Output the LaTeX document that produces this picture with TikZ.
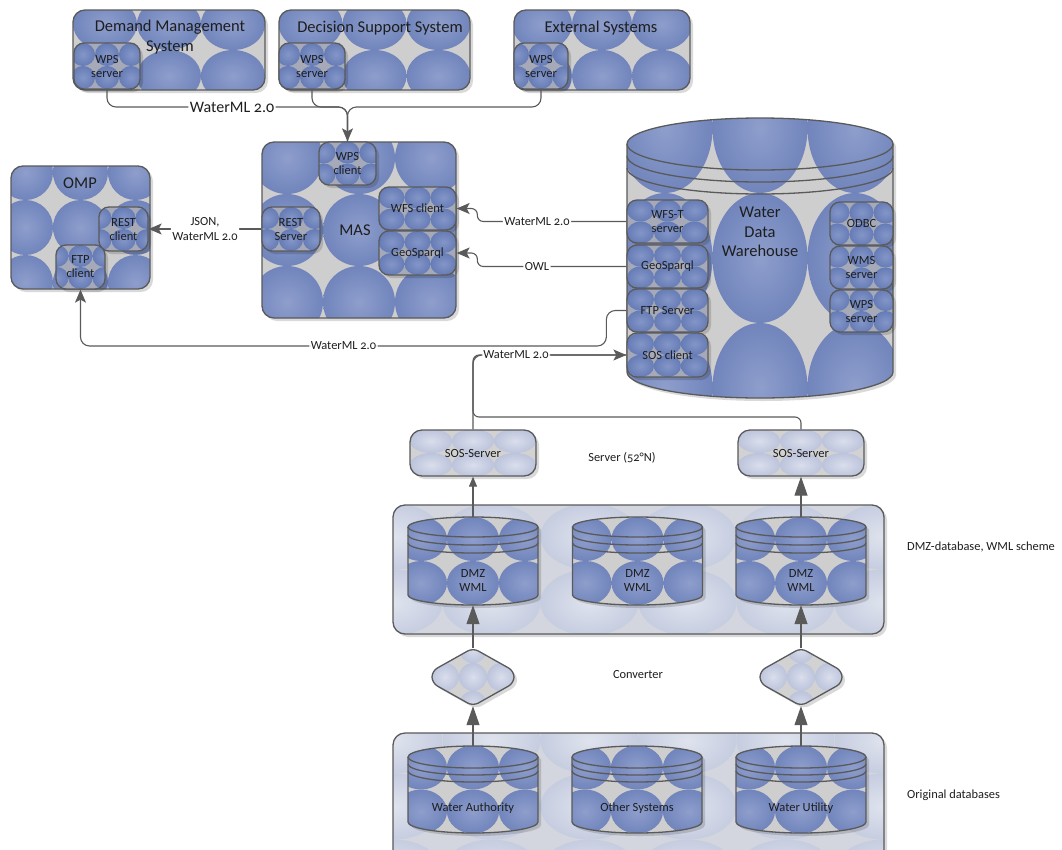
\documentclass[tikz,border=0pt]{standalone}
\usepackage{fontspec}
\setmainfont{Carlito}[Numbers=OldStyle]
\usetikzlibrary{arrows.meta}

\definecolor{bordc}{HTML}{5A5A5A}
\definecolor{txtc}{HTML}{1E1E1E}
\definecolor{dkgap}{HTML}{CECECE}
\definecolor{dkin}{HTML}{8E9ECC}
\definecolor{dkout}{HTML}{7185BC}
\definecolor{smgap}{HTML}{A6AAB8}
\definecolor{smin}{HTML}{8496C8}
\definecolor{smout}{HTML}{667CB6}
\definecolor{ltgap}{HTML}{D2D2D2}
\definecolor{ltin}{HTML}{DADEEC}
\definecolor{ltout}{HTML}{BCC4DC}
\definecolor{xlgap}{HTML}{D3D6DE}
\definecolor{xlin}{HTML}{DFE3EE}
\definecolor{xlout}{HTML}{C6CDE0}

\newcommand\fsT{\fontsize{16.5}{19.5}\selectfont}
\newcommand\fsS{\fontsize{12.5}{14}\selectfont}
\newcommand\fsL{\fontsize{12.4}{15}\selectfont}
\newcommand\bxr{10}

\tikzset{
  dk gap/.style={fill=dkgap}, dk ball/.style={inner color=dkin, outer color=dkout},
  sm gap/.style={fill=smgap}, sm ball/.style={inner color=smin, outer color=smout},
  lt gap/.style={fill=ltgap}, lt ball/.style={inner color=ltin, outer color=ltout},
  xl gap/.style={fill=xlgap}, xl ball/.style={inner color=xlin, outer color=xlout},
  shadowc/.style={fill=black, fill opacity=0.15},
  outline/.style={draw=bordc, line width=1.3pt, inner sep=0pt, align=center, text=txtc, font=\fsS},
  rim/.style={draw=bordc, line width=1.3pt},
  conn/.style={draw=bordc, line width=1.1pt, rounded corners=9pt},
  tipM/.style={-{Stealth[length=13pt,width=11pt,inset=3pt]}},
  tipB/.style={-{Triangle[length=19pt,width=13pt]}},
  tipS/.style={-{Triangle[length=10pt,width=8pt]}},
  lbl/.style={fill=white, inner sep=1.5pt, text=txtc, font=\fsL, align=center},
  title/.style={text=txtc, font=\fsT, align=center, inner sep=0pt},
  note/.style={text=txtc, font=\fsL, inner sep=0pt, align=center},
  % lower (front) half of an ellipse, left to right: centre x, centre y, rx, ry
  frontarc/.style n args={4}{insert path={.. controls ({(#1)-(#3)},{(#2)+0.5523*(#4)}) and ({(#1)-0.5523*(#3)},{(#2)+(#4)}) .. ({#1},{(#2)+(#4)}) .. controls ({(#1)+0.5523*(#3)},{(#2)+(#4)}) and ({(#1)+(#3)},{(#2)+0.5523*(#4)}) .. ({(#1)+(#3)},{#2})}},
  % upper (back) half of an ellipse, right to left
  backarc/.style n args={4}{insert path={.. controls ({(#1)+(#3)},{(#2)-0.5523*(#4)}) and ({(#1)+0.5523*(#3)},{(#2)-(#4)}) .. ({#1},{(#2)-(#4)}) .. controls ({(#1)-0.5523*(#3)},{(#2)-(#4)}) and ({(#1)-(#3)},{(#2)-0.5523*(#4)}) .. ({(#1)-(#3)},{#2})}},
  hexpath/.style={insert path={(#1,648) -- ({(#1)+41},671) -- ({(#1)+41},683) -- (#1,706) -- ({(#1)-41},683) -- ({(#1)-41},671) -- cycle}}
}

% grid of shaded ellipses filling a rectangle (used inside a clip)
\newcommand\bubblegrid[7]{%
  \pgfmathsetmacro\bgw{(#3)-(#1)}%
  \pgfmathsetmacro\bgh{(#4)-(#2)}%
  \pgfmathtruncatemacro\bgnx{ceil(\bgw/(#5))}%
  \pgfmathtruncatemacro\bgny{ceil(\bgh/(#6))}%
  \pgfmathsetmacro\bgxo{((#1)+(#3))/2-\bgnx*(#5)/2}%
  \pgfmathsetmacro\bgyo{((#2)+(#4))/2-\bgny*(#6)/2}%
  \fill[#7 gap] ({#1},{#2}) rectangle ({#3},{#4});
  \foreach \i in {1,...,\bgnx}{\foreach \j in {1,...,\bgny}{%
    \shade[#7 ball] ({\bgxo+(\i-0.5)*(#5)},{\bgyo+(\j-0.5)*(#6)}) ellipse ({(#5)/2} and {(#6)/2});}}%
}

% rounded box: name, x1, y1, x2, y2, cell w, cell h, palette, text
\newcommand\rbox[9]{%
  \fill[shadowc, rounded corners=\bxr] ({(#2)+3},{(#3)+3}) rectangle ({(#4)+3},{(#5)+3});
  \begin{scope}
    \clip[rounded corners=\bxr] (#2,#3) rectangle (#4,#5);
    \bubblegrid{#2}{#3}{#4}{#5}{#6}{#7}{#8}
  \end{scope}
  \node[outline, rounded corners=\bxr, minimum width={(#4)-(#2)}, minimum height={(#5)-(#3)}] (#1) at ({((#2)+(#4))/2},{((#3)+(#5))/2}) {#9};
}

% cylinder: name, cx, top centre y, bottom centre y, rx, ry, ring gap, cell w, cell h
\newcommand\cylinder[9]{%
  \fill[shadowc, shift={(3,3)}] ({(#2)-(#5)},{#3}) -- ({(#2)-(#5)},{#4}) [frontarc={#2}{#4}{#5}{#6}] -- ({(#2)+(#5)},{#3}) [backarc={#2}{#3}{#5}{#6}] -- cycle;
  \begin{scope}
    \clip ({(#2)-(#5)},{#3}) -- ({(#2)-(#5)},{#4}) [frontarc={#2}{#4}{#5}{#6}] -- ({(#2)+(#5)},{#3}) [backarc={#2}{#3}{#5}{#6}] -- cycle;
    \bubblegrid{(#2)-(#5)}{(#3)-(#6)}{(#2)+(#5)}{(#4)+(#6)}{#8}{#9}{dk}
  \end{scope}
  \draw[rim] ({(#2)-(#5)},{#3}) -- ({(#2)-(#5)},{#4}) [frontarc={#2}{#4}{#5}{#6}] -- ({(#2)+(#5)},{#3});
  \draw[rim] ({#2},{#3}) ellipse ({#5} and {#6});
  \draw[rim] ({(#2)-(#5)},{(#3)+(#7)}) [frontarc={#2}{(#3)+(#7)}{#5}{#6}];
  \draw[rim] ({(#2)-(#5)},{(#3)+2*(#7)}) [frontarc={#2}{(#3)+2*(#7)}{#5}{#6}];
  \node[inner sep=0pt, minimum width={2*(#5)}, minimum height={(#4)-(#3)+2*(#6)}] (#1) at ({#2},{((#3)+(#4))/2}) {};
}

% converter: name, cx
\newcommand\converter[2]{%
  \fill[shadowc, rounded corners=6pt, shift={(3,3)}, hexpath=#2];
  \begin{scope}
    \clip[rounded corners=6pt, hexpath=#2];
    \bubblegrid{(#2)-41}{648}{(#2)+41}{706}{28}{28}{lt}
  \end{scope}
  \draw[rim, rounded corners=6pt, hexpath=#2];
  \node[inner sep=0pt, minimum width=82, minimum height=58] (#1) at (#2,677) {};
}

\begin{document}
\begin{tikzpicture}[x=1pt,y=-1pt]
\useasboundingbox (0,0) rectangle (1062,849);
\fill[white] (0,0) rectangle (1062,849);

% ---------- external systems ----------
\renewcommand\bxr{12}
\rbox{dms}{73}{10}{265}{90}{64}{52}{dk}{}
\rbox{dss}{279}{10}{470}{90}{64}{52}{dk}{}
\rbox{ext}{514}{10}{690}{90}{60}{52}{dk}{}
\node[title] (dmsT) at (170,37) {Demand Management\\System};
\node[title] (dssT) at (380,28) {Decision Support System};
\node[title] (extT) at (601,28) {External Systems};
\renewcommand\bxr{10}
\rbox{dwps}{74}{43}{140}{89}{24}{23}{sm}{WPS\\server}
\rbox{decwps}{279}{43}{345}{89}{24}{23}{sm}{WPS\\server}
\rbox{extwps}{514}{43}{568}{89}{24}{23}{sm}{WPS\\server}

% ---------- MAS ----------
\renewcommand\bxr{12}
\rbox{mas}{262}{142}{456}{318}{72}{72}{dk}{}
\node[title] (masT) at (355,230) {MAS};
\renewcommand\bxr{10}
\rbox{mwps}{319}{142}{376}{185}{24}{22}{sm}{WPS\\client}
\rbox{mwfs}{379}{187}{456}{230}{26}{22}{sm}{WFS client}
\rbox{mgeo}{379}{231}{456}{275}{26}{22}{sm}{GeoSparql}
\rbox{mrest}{262}{207}{320}{251}{24}{22}{sm}{REST\\Server}

% ---------- OMP ----------
\renewcommand\bxr{12}
\rbox{omp}{11}{166}{150}{289}{55}{55}{dk}{}
\node[title] (ompT) at (80,183) {OMP};
\renewcommand\bxr{10}
\rbox{orest}{99}{207}{148}{251}{24}{22}{sm}{REST\\client}
\rbox{oftp}{56}{245}{105}{289}{24}{22}{sm}{FTP\\client}

% ---------- water data warehouse ----------
\cylinder{wdw}{760}{144}{372}{133}{26}{12}{95}{130}
\node[title] (wdwT) at (760,232) {Water\\Data\\Warehouse};
\rbox{wfst}{627}{200}{708}{243}{27}{22}{sm}{WFS-T\\server}
\rbox{wgeo}{627}{245}{708}{288}{27}{22}{sm}{GeoSparql}
\rbox{wftp}{627}{289}{708}{332}{27}{22}{sm}{FTP Server}
\rbox{wsos}{627}{333}{708}{377}{27}{22}{sm}{SOS client}
\rbox{wodbc}{830}{202}{893}{245}{24}{22}{sm}{ODBC}
\rbox{wwms}{830}{246}{893}{289}{24}{22}{sm}{WMS\\server}
\rbox{wwps}{830}{290}{893}{332}{24}{22}{sm}{WPS\\server}

% ---------- SOS servers ----------
\renewcommand\bxr{12}
\rbox{sos1}{410}{430}{536}{476}{42}{24}{lt}{SOS-Server}
\rbox{sos2}{738}{430}{864}{476}{42}{24}{lt}{SOS-Server}
\node[note] (srvT) at (622,458) {Server (52°N)};

% ---------- DMZ databases ----------
\rbox{dmzbox}{393}{505}{884}{634}{98}{66}{xl}{}
\cylinder{dmz1}{473}{527}{595}{65}{10}{8}{52}{44}
\cylinder{dmz2}{637.5}{527}{595}{65}{10}{8}{52}{44}
\cylinder{dmz3}{801}{527}{595}{65}{10}{8}{52}{44}
\node[note, font=\fsS] (dmz1T) at (473,580) {DMZ\\WML};
\node[note, font=\fsS] (dmz2T) at (637.5,580) {DMZ\\WML};
\node[note, font=\fsS] (dmz3T) at (801,580) {DMZ\\WML};
\node[note, anchor=west] (dmzL) at (907,547) {DMZ-database, WML scheme};

% ---------- converters ----------
\converter{conv1}{473}
\converter{conv2}{801}
\node[note] (convT) at (638,675) {Converter};

% ---------- original databases ----------
\rbox{orgbox}{393}{733}{884}{880}{98}{66}{xl}{}
\cylinder{oa1}{473}{757}{822}{65}{11}{7}{52}{44}
\cylinder{oa2}{637}{757}{822}{65}{11}{7}{52}{44}
\cylinder{oa3}{801}{757}{822}{65}{11}{7}{52}{44}
\node[note, font=\fsS] (oa1T) at (473,808) {Water Authority};
\node[note, font=\fsS] (oa2T) at (637,808) {Other Systems};
\node[note, font=\fsS] (oa3T) at (801,808) {Water Utility};
\node[note, anchor=west] (orgL) at (907,795) {Original databases};

% ---------- connectors ----------
\coordinate (merge) at (mwps.north |- 0,107);
\draw[conn] (decwps.south) |- (merge) -- (mwps.north);
\draw[conn] (extwps.south) |- (merge) -- (mwps.north);
\draw[conn, tipM] (dwps.south) |- node[lbl, pos=0.76, font=\fontsize{16}{19}\selectfont] (wml1) {WaterML 2.0} (merge) -- (mwps.north);

\draw[conn, tipM] (mrest.west) -- node[lbl] (json) {JSON,\\WaterML 2.0} (orest.east);

\draw[conn, tipM, rounded corners=6pt] (wfst.west) -- node[lbl, pos=0.6] (wml2) {WaterML 2.0} ++(-149,0) |- (mwfs.east);
\draw[conn, tipM, rounded corners=6pt] (wgeo.west) -- node[lbl, pos=0.6] (owl) {OWL} ++(-149,0) |- (mgeo.east);

\coordinate (ftpc) at (oftp.south |- 0,346);
\draw[conn, tipM] (wftp.west) -- ++(-20,0) |- node[lbl, pos=0.75] (wml3) {WaterML 2.0} (ftpc) -- (oftp.south);

\coordinate (sosj) at (sos1.north |- 0,417);
\draw[conn, rounded corners=6pt] (sos2.north) |- (sosj) |- (wsos.west);
\draw[conn, tipM] (sos1.north) |- node[lbl, pos=0.64] (wml4) {WaterML 2.0} (wsos.west);

\draw[conn, tipS] (dmz1.north) -- (sos1.south);
\draw[conn, tipB] (dmz3.north) -- (sos2.south);
\draw[conn, tipB] (conv1.north) -- (dmz1.south);
\draw[conn, tipB] (conv2.north) -- (dmz3.south);
\draw[conn, tipB] (oa1.north) -- (conv1.south);
\draw[conn, tipB] (oa3.north) -- (conv2.south);
\end{tikzpicture}
\end{document}
